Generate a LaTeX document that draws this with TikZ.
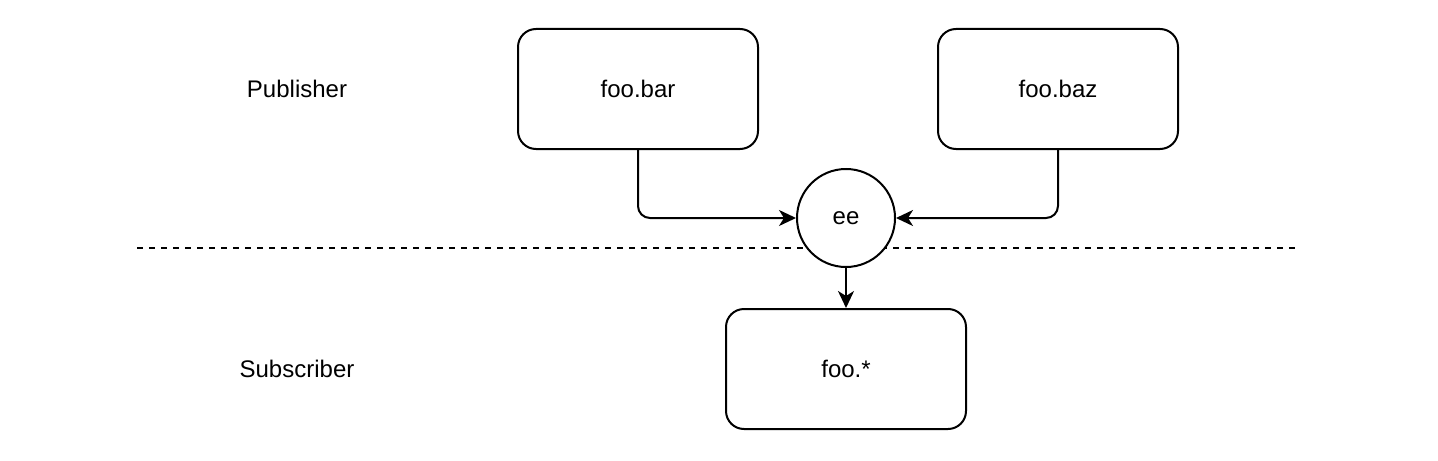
\documentclass[tikz,border=0pt]{standalone}
\usepackage{fontspec}
\setmainfont{Liberation Sans}
\usetikzlibrary{arrows.meta}
\begin{document}
\begin{tikzpicture}[x=0.5pt,y=-0.5pt,
  every node/.style={font=\fontsize{12pt}{14pt}\selectfont},
  topic/.style={draw, line width=1pt, rounded corners=9pt, minimum width=120pt, minimum height=60pt, fill=white, inner sep=0pt},
  exch/.style={draw, circle, line width=1pt, minimum size=49pt, fill=white, inner sep=0pt},
  arr/.style={draw, line width=1pt, rounded corners=6pt, -{Stealth[length=8.5pt,width=8pt,inset=2.5pt]}},
  sep/.style={draw, line width=1pt, dash pattern=on 3pt off 3pt},
  lbl/.style={inner sep=0pt}]
\useasboundingbox (0,0) rectangle (1438,460);
\coordinate (l1) at (137,248);
\coordinate (l2) at (1297,248);
\path[sep] (l1) -- (l2);
\node[lbl] (pub) at (297,89) {Publisher};
\node[lbl] (sub) at (297,369) {Subscriber};
\node[topic] (bar) at (638,89) {foo.bar};
\node[topic] (baz) at (1058,89) {foo.baz};
\node[topic] (star) at (846,369) {foo.*};
\node[exch] (ee) at (846,218) {ee};
\path[arr] (bar.south) |- (ee.west);
\path[arr] (baz.south) |- (ee.east);
\path[arr] (ee.south) -- (star.north);
\end{tikzpicture}
\end{document}
